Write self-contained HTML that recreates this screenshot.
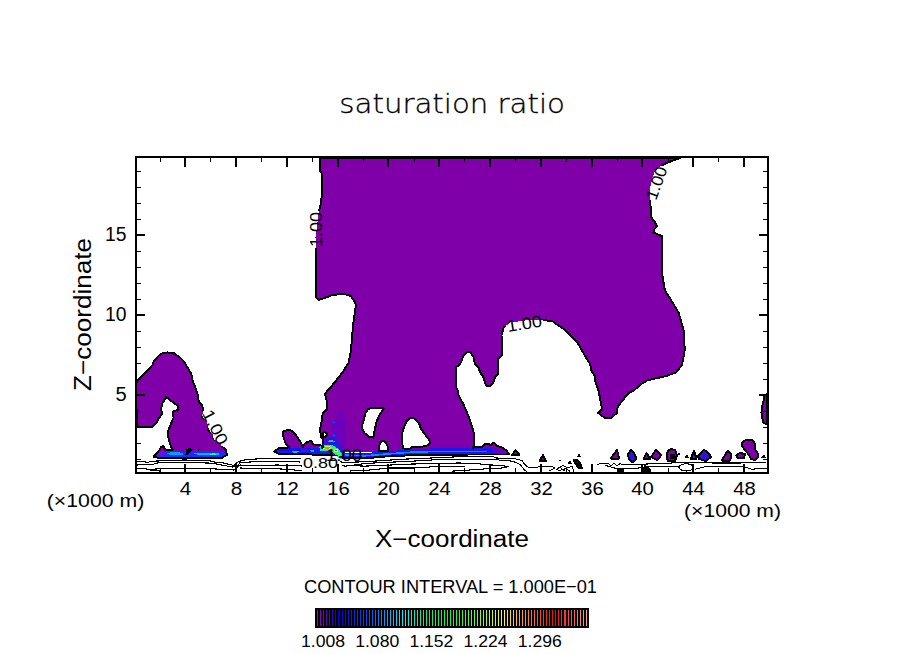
<!DOCTYPE html>
<html><head><meta charset="utf-8"><title>saturation ratio</title>
<style>html,body{margin:0;padding:0;background:#fff;}svg{display:block;}</style></head>
<body>
<svg width="904" height="654" viewBox="0 0 904 654" shape-rendering="crispEdges">
<defs><mask id="lm" maskUnits="userSpaceOnUse" x="0" y="0" width="904" height="654"><rect width="904" height="654" fill="#fff"/><rect transform="translate(321.8,247) rotate(-90)" x="-1" y="-12.4" width="37" height="13.2" fill="#000"/><rect transform="translate(656,201) rotate(-70)" x="-1" y="-12.4" width="36" height="13.2" fill="#000"/><rect transform="translate(508,332) rotate(-9)" x="-1" y="-12.4" width="37" height="13.2" fill="#000"/><rect transform="translate(201.8,413.2) rotate(63)" x="-1" y="-12.4" width="39" height="13.2" fill="#000"/><rect transform="translate(303,467.6) rotate(0)" x="-1" y="-11.6" width="37" height="12.4" fill="#000"/></mask></defs>
<rect width="904" height="654" fill="#fff"/>
<polygon points="320,158 680,158 673,160.5 665,163.75 658.75,167 655,171.25 652.5,177.5 650,187.5 650,200 650.6,207.5 651.25,217.5 655,222.5 657,226.25 653.75,230 653.5,232.5 662.25,236.25 662.25,250 662.25,275 664.75,290 671,300 678.5,312.5 683.5,330 684.75,350 682,365 676,372.5 666,376 650,379.7 646.9,380.6 641.4,383.9 634,390.3 628.5,393 624.9,397.6 621.2,402.2 618.4,405.9 616.6,410 617.5,413.2 613.4,415.5 611.1,417.8 605.1,417.8 601,415 597.8,412.8 601.5,410 601.5,405.9 600.1,398.5 598.3,389.4 595.5,382 594.6,375.6 591.8,371.9 590,363.7 587.5,360 577.5,342.5 565,330 552.5,321.25 543.75,320 525,320.5 510,322.5 503.75,327.5 501.5,335 502,355.2 498.5,358.5 498.1,362 498.1,373.7 495.1,377 493.9,381.2 490.9,385.5 486.7,385.9 485,382.9 483.4,377 480,372 478.3,367 474.9,363.6 473.3,356 469.9,352.2 466.5,352.6 463.2,356 461.5,361 459.8,364.4 456.4,366.9 455.6,370.3 456,387.1 457.7,390.5 458.5,395 463.75,405 470,420 473.75,432.5 473.75,445 473,449 420,449 380,452 345,452 330,449 323,444.2 323.5,440 321,437 320,429.1 321.2,424.8 322,416.7 323.3,412.4 327,408.7 326.7,400.6 325,393.75 332.5,385 342.5,372.5 348.75,362.5 351,350 352.5,332.5 353.75,320 356,305 355,302.5 351,296 343.75,293.75 332.5,295 318.75,300 316,297.5 316,275 316,262.5 316,250 315.5,237.5 318.75,212.5 320.5,205 322,195 322,187.5 322,173.75 320,171 320,160" fill="#7f00a8"/>
<polygon points="368.2,408.9 375.7,407.5 383.7,408.5 383.2,409.8 379.4,415 376.6,421.6 374.7,430.1 373.3,437.6 369.1,437.1 364.4,432.9 361.6,427.3 363.5,420.7 365.3,413.2" fill="#fff"/>
<polygon points="410.5,417.9 415.2,418.8 418.9,422.6 420.8,428.2 424.5,433.8 429.2,439.5 430.2,443.2 428.3,445.1 420.8,447 411.4,447.5 409.5,448.9 405.8,449.3 402.9,447.9 402,440.4 402,433.8 403.9,427.3 406.2,421.6" fill="#fff"/>
<polygon points="383,440.5 386,443 388,447 388.5,451 378.5,451 379.5,445 381,441.5" fill="#fff"/>
<polygon points="323.3,432.5 325,431.5 327.5,434.5 325.5,437.2 323.3,437" fill="#fff"/>
<polygon points="136,383 140,378 146.25,371.9 152.5,365 153,362.5 158.75,355.6 162.5,353.1 167.5,352.5 173.75,353.1 180,357.5 183.75,361.25 191.25,373.75 192.5,380 197.5,393.75 198.75,401.25 201.9,405 203.4,410 201.5,417.6 206,420 208,425 208.3,430.6 213,434.4 213.7,439 220.6,444.3 222,446.6 226,450 227,455 222,457.7 158,457.7 153.7,456.7 159.3,450.2 161,447 163.5,446.2 165,449.5 172.7,449.5 170.9,446.2 168.6,439.7 168.1,431.5 170,426 173.6,417.7 172.7,411.7 177.8,409.9 177.8,405.8 172.7,402.1 166.3,397 162.6,403 160.8,409.4 162.6,413.1 158.5,418.6 157.1,422.3 151.6,427.4 136.9,427" fill="#7f00a8"/>
<polygon points="282.5,434 283.5,431.5 286.5,430.2 291,430.5 294.5,433.5 298,438 300.5,442 302.8,447 304.7,443.8 307.2,442 311.5,440.7 312.8,444.4 319.6,445 323,446 322,449 300,449 290,448 286,444.5" fill="#7f00a8"/>
<polygon points="767,394 764.5,396 763.8,400.2 762.4,405.7 761.4,412.6 762.1,417.4 763.4,422.2 766,424.3 767,424.5" fill="#7f00a8"/>
<polygon points="744,441 748,439.5 753,440.5 755,444 755,449 757.5,453 758,457 755,460 751,459 749,455 745,450 742,446 741.5,443" fill="#7f00a8"/>
<polygon points="474,447.3 482,447.3 484,444.5 489,443.9 491,445.5 493,443.2 495,443.5 497,446 502,447.5 506,450 509,453.8 506,454.5 474,454.5" fill="#7f00a8"/>
<polygon points="515.5,450 519.5,455 512,455" fill="#7f00a8"/>
<polygon points="543,455 545.75,461 539.5,461" fill="#7f00a8"/>
<polygon points="617,450 619,458.5 610.5,458.5" fill="#7f00a8"/>
<polygon points="646.6,453 650,458.75 643.6,458.75" fill="#7f00a8"/>
<polygon points="656,450 661.5,455 657,460 651,457" fill="#7f00a8"/>
<polygon points="671,449 675,450 677,455 675,461 668,461 666.5,456 668,451" fill="#7f00a8"/>
<polygon points="694,450.6 696.5,458.75 691,458.75" fill="#7f00a8"/>
<polygon points="728,450.5 731.5,455 730,460.5 722,460.5 725,455" fill="#7f00a8"/>
<polygon points="736,455.5 740,453 745,454 744,458 738,458" fill="#7f00a8"/>
<polygon points="631,450 634,453 636.5,459 632,462.5 629,459 628,454" fill="#3010e0"/>
<polygon points="704,449.5 709,454 711,457 706,461 699,459 698,456" fill="#3010e0"/>
<polygon points="274.3,451.3 279,448 300,448 320,447.6 330,449 345,452.5 365,453 385,451.5 410,449.5 430,448.5 470,447.8 493,448 498,450 506,452.5 508,454 496,454.5 470,454.5 430,454.8 416,455 385,456.5 363,458.5 345,458 330,455 300,454.5 279,454.5" fill="#1818f0"/>
<polygon points="345,454.3 365,455 385,453.3 410,451.5 440,450.6 480,450.6 490,451.2 480,452.2 440,452.2 410,453 385,455 365,456.6 345,456" fill="#0090ff"/>
<polygon points="492,448 500,449 507,452.3 508.5,454 500,453.8 494,452.8" fill="#6008c8"/>
<polygon points="292,451 296,449.8 299.5,451 297,452.6 293,452.6" fill="#00c8ff"/>
<polygon points="309.7,451 312,449.4 314.6,451 312,452" fill="#20a8ff"/>
<polygon points="301,449 308.4,449 308.4,451.9 301,451.9" fill="#5010d0"/>
<polygon points="279,450 300,449.4 300,450.5 279,451" fill="#1010e8"/>
<polygon points="153.7,456.7 159,451.5 165,451 222,451 224.3,452.5 226,456 222,457.7 158,457.7" fill="#1030ff"/>
<polygon points="156,455 160,452 166,452 163,456" fill="#7010d0"/>
<polygon points="166,453 172,452.3 183,452.6 183,454.8 170,455.2" fill="#00a0ff"/>
<polygon points="193,453.3 205,452.6 216,452.8 221,454 216,455.4 200,455.3" fill="#00b8ff"/>
<polygon points="209.5,453.6 215,453.4 216,455 210,455.2" fill="#20ff80"/>
<polygon points="185.3,454.9 186.5,449 190,447.4 192.7,449.5 190,452 188,455" fill="#000"/>
<polygon points="197.4,451 198.5,449.3 200,449.6 199,451" fill="#000"/>
<polygon points="341,411.5 344.5,418 345,449 331,446 331.5,424 337,418" fill="#6c00bc"/>
<polygon points="333.8,420.4 336,422.6 333.8,424.8 331.6,422.6" fill="#1838f8"/>
<polygon points="333.8,433.4 336,435.6 333.8,437.8 331.6,435.6" fill="#1838f8"/>
<polygon points="325.5,438 331,437 336,438.5 339,442 342,448 343.5,454 342.5,459.3 336,456 331,451 320,451 319,446 322,444.5 325,442" fill="#2818d8"/>
<ellipse cx="331.3" cy="441.4" rx="3.7" ry="1" fill="#30a8ff"/>
<polygon points="319.5,447.5 321.5,445 331.3,444.8 335.5,446.8 339.5,450 342.5,455 342.2,459.2 338,457.5 333,452.5 330.5,451.2 320,451.2" fill="#00e8d0"/>
<polygon points="321,447.6 323,445.8 331,445.8 335,447.8 338.5,450.5 341,455.5 338.5,456 333.5,451.8 330.5,450.3 321.5,450.3" fill="#30ff50"/>
<ellipse cx="327.1" cy="447.8" rx="4.5" ry="1.5" fill="#d0ff20"/>
<ellipse cx="327.1" cy="447.8" rx="3.2" ry="0.9" fill="#ff8000"/>
<ellipse cx="336" cy="450.4" rx="2.2" ry="1.7" fill="#e0ff20"/>
<ellipse cx="336" cy="450.6" rx="1.2" ry="0.9" fill="#ff3000"/>
<circle cx="313" cy="451.5" r="1" fill="#00a0ff"/>
<g mask="url(#lm)">
<polyline points="323,444.2 323.5,440 321,437 320,429.1 321.2,424.8 322,416.7 323.3,412.4 327,408.7 326.7,400.6 325,393.75 332.5,385 342.5,372.5 348.75,362.5 351,350 352.5,332.5 353.75,320 356,305 355,302.5 351,296 343.75,293.75 332.5,295 318.75,300 316,297.5 316,275 316,262.5 316,250 315.5,237.5 318.75,212.5 320.5,205 322,195 322,187.5 322,173.75 320,171 320,160 320,158 680,158 673,160.5 665,163.75 658.75,167 655,171.25 652.5,177.5 650,187.5 650,200 650.6,207.5 651.25,217.5 655,222.5 657,226.25 653.75,230 653.5,232.5 662.25,236.25 662.25,250 662.25,275 664.75,290 671,300 678.5,312.5 683.5,330 684.75,350 682,365 676,372.5 666,376 650,379.7 646.9,380.6 641.4,383.9 634,390.3 628.5,393 624.9,397.6 621.2,402.2 618.4,405.9 616.6,410 617.5,413.2 613.4,415.5 611.1,417.8 605.1,417.8 601,415 597.8,412.8 601.5,410 601.5,405.9 600.1,398.5 598.3,389.4 595.5,382 594.6,375.6 591.8,371.9 590,363.7 587.5,360 577.5,342.5 565,330 552.5,321.25 543.75,320 525,320.5 510,322.5 503.75,327.5 501.5,335 502,355.2 498.5,358.5 498.1,362 498.1,373.7 495.1,377 493.9,381.2 490.9,385.5 486.7,385.9 485,382.9 483.4,377 480,372 478.3,367 474.9,363.6 473.3,356 469.9,352.2 466.5,352.6 463.2,356 461.5,361 459.8,364.4 456.4,366.9 455.6,370.3 456,387.1 457.7,390.5 458.5,395 463.75,405 470,420 473.75,432.5 473.75,445 473,449" stroke="#000" stroke-width="2" stroke-linejoin="round" fill="none"/>
<polyline points="288,448 279,448 274.3,451.3 279,454.2 300,454.2 330,455 345,458 363,458.5 385,456.5 416,455 430,454.8 470,454.5 506,454.5" stroke="#000" stroke-width="2" stroke-linejoin="round" fill="none"/>
<polyline points="136,383 140,378 146.25,371.9 152.5,365 153,362.5 158.75,355.6 162.5,353.1 167.5,352.5 173.75,353.1 180,357.5 183.75,361.25 191.25,373.75 192.5,380 197.5,393.75 198.75,401.25 201.9,405 203.4,410 201.5,417.6 206,420 208,425 208.3,430.6 213,434.4 213.7,439 220.6,444.3 222,446.6 226,450 227,455 222,457.7 158,457.7 153.7,456.7 159.3,450.2 161,447 163.5,446.2 165,449.5 172.7,449.5 170.9,446.2 168.6,439.7 168.1,431.5 170,426 173.6,417.7 172.7,411.7 177.8,409.9 177.8,405.8 172.7,402.1 166.3,397 162.6,403 160.8,409.4 162.6,413.1 158.5,418.6 157.1,422.3 151.6,427.4 136.9,427 136,383" stroke="#000" stroke-width="2" stroke-linejoin="round" fill="none"/>
<polyline points="290,448 286,444.5 282.5,434 283.5,431.5 286.5,430.2 291,430.5 294.5,433.5 298,438 300.5,442 302.8,447 304.7,443.8 307.2,442 311.5,440.7 312.8,444.4 319.6,445 323,446 322,449" stroke="#000" stroke-width="2" stroke-linejoin="round" fill="none"/>
<polyline points="474,447.3 482,447.3 484,444.5 489,443.9 491,445.5 493,443.2 495,443.5 497,446 502,447.5 506,450 509,453.8 506,454.5" stroke="#000" stroke-width="2" stroke-linejoin="round" fill="none"/>
<polygon points="368.2,408.9 375.7,407.5 383.7,408.5 383.2,409.8 379.4,415 376.6,421.6 374.7,430.1 373.3,437.6 369.1,437.1 364.4,432.9 361.6,427.3 363.5,420.7 365.3,413.2" stroke="#000" stroke-width="2" stroke-linejoin="round" fill="none"/>
<polygon points="410.5,417.9 415.2,418.8 418.9,422.6 420.8,428.2 424.5,433.8 429.2,439.5 430.2,443.2 428.3,445.1 420.8,447 411.4,447.5 409.5,448.9 405.8,449.3 402.9,447.9 402,440.4 402,433.8 403.9,427.3 406.2,421.6" stroke="#000" stroke-width="2" stroke-linejoin="round" fill="none"/>
<polygon points="383,440.5 386,443 388,447 388.5,451 378.5,451 379.5,445 381,441.5" stroke="#000" stroke-width="2" stroke-linejoin="round" fill="none"/>
<polygon points="323.3,432.5 325,431.5 327.5,434.5 325.5,437.2 323.3,437" stroke="#000" stroke-width="2" stroke-linejoin="round" fill="none"/>
<polygon points="767,394 764.5,396 763.8,400.2 762.4,405.7 761.4,412.6 762.1,417.4 763.4,422.2 766,424.3 767,424.5" stroke="#000" stroke-width="2" stroke-linejoin="round" fill="none"/>
<polygon points="744,441 748,439.5 753,440.5 755,444 755,449 757.5,453 758,457 755,460 751,459 749,455 745,450 742,446 741.5,443" stroke="#000" stroke-width="2" stroke-linejoin="round" fill="none"/>
<polygon points="515.5,450 519.5,455 512,455" stroke="#000" stroke-width="2" stroke-linejoin="round" fill="none"/>
<polygon points="543,455 545.75,461 539.5,461" stroke="#000" stroke-width="2" stroke-linejoin="round" fill="none"/>
<polygon points="617,450 619,458.5 610.5,458.5" stroke="#000" stroke-width="2" stroke-linejoin="round" fill="none"/>
<polygon points="646.6,453 650,458.75 643.6,458.75" stroke="#000" stroke-width="2" stroke-linejoin="round" fill="none"/>
<polygon points="656,450 661.5,455 657,460 651,457" stroke="#000" stroke-width="2" stroke-linejoin="round" fill="none"/>
<polygon points="671,449 675,450 677,455 675,461 668,461 666.5,456 668,451" stroke="#000" stroke-width="2" stroke-linejoin="round" fill="none"/>
<polygon points="694,450.6 696.5,458.75 691,458.75" stroke="#000" stroke-width="2" stroke-linejoin="round" fill="none"/>
<polygon points="728,450.5 731.5,455 730,460.5 722,460.5 725,455" stroke="#000" stroke-width="2" stroke-linejoin="round" fill="none"/>
<polygon points="736,455.5 740,453 745,454 744,458 738,458" stroke="#000" stroke-width="2" stroke-linejoin="round" fill="none"/>
<polygon points="631,450 634,453 636.5,459 632,462.5 629,459 628,454" stroke="#000" stroke-width="2" stroke-linejoin="round" fill="none"/>
<polygon points="704,449.5 709,454 711,457 706,461 699,459 698,456" stroke="#000" stroke-width="2" stroke-linejoin="round" fill="none"/>
</g>
<g mask="url(#lm)">
<polyline points="137,461.25 142,461.25 147.75,462.5 151.5,461.25 184,460 209,460.6 214,461.9 224,463.1 234,465.5 237,462.5 241.5,460.6 247.5,459.4 275,458.1 295,458.1 301,458.5" fill="none" stroke="#000" stroke-width="1.1" stroke-linejoin="round"/>
<polyline points="137,465 146.5,464.4 152.75,464.4 159,462.5 184,462.5 211.5,463.1 221.5,465 232.75,467 238,465.5 240,462.5 252.5,461.9 277.5,461.25 292.5,461.25 300,462" fill="none" stroke="#000" stroke-width="1.1" stroke-linejoin="round"/>
<polyline points="137,468.1 150.25,469.4 160,468.75 184,468.1 211.5,468.75 234,470 240,465 250,465.6 277.5,465 296,465.6 302,466" fill="none" stroke="#000" stroke-width="1.1" stroke-linejoin="round"/>
<polyline points="240,468 261,468.75 277.5,468.75 302.5,470.6" fill="none" stroke="#000" stroke-width="1.1" stroke-linejoin="round"/>
<polyline points="150,470.5 160,471" fill="none" stroke="#000" stroke-width="1.1" stroke-linejoin="round"/>
<polyline points="340,461 342.5,462.5 364.75,461.75 402,459.25 431,458 459,456.75 493.25,456.75 495.75,458 514.5,458.6 522,460.5 524.5,464.25 527,466.75 532,468 539.5,466.75 552,466.1 554.5,468 549.5,471" fill="none" stroke="#000" stroke-width="1.1" stroke-linejoin="round"/>
<polyline points="342,465 345,466.25 364.75,463.6 383.5,462.4 402,461.75 433.5,459.9 459,459.25 494.5,459.25 502,460.5 512,461.1 515.75,462.4 519.5,464.25 522,466.75 524.5,469.9 527,471.75" fill="none" stroke="#000" stroke-width="1.1" stroke-linejoin="round"/>
<polyline points="346,465.5 364.75,466.1 383.5,465.5 402,464.25 433.5,463.6 459,463 477,463.6 489.5,464.9 502,465.5 508.25,466.75 502,468 489.5,468.6 470.75,469.9 464.5,470.5 452,471.1" fill="none" stroke="#000" stroke-width="1.1" stroke-linejoin="round"/>
<polyline points="350,471 364.75,470.5 389.75,468 414.75,468 433.5,466.75 459,466.1 464.5,466.75" fill="none" stroke="#000" stroke-width="1.1" stroke-linejoin="round"/>
<polyline points="596.75,464.25 608,463 611,466 614,463 617,466 620,463.5 623,464.9 643,464.25 653,463.6 664,463.6 679,462.4 692.75,462.4 714,463 739,463 766.5,462.4" fill="none" stroke="#000" stroke-width="1.1" stroke-linejoin="round"/>
<polyline points="605.5,465.5 614.25,468 623,468.6 635.5,468.6 645.5,466.75 658,466.1 671.5,466.75 679,467" fill="none" stroke="#000" stroke-width="1.1" stroke-linejoin="round"/>
<polyline points="695,469.25 705,466.75 726.5,466.75 744,466.75 751.5,469.25 766.5,468" fill="none" stroke="#000" stroke-width="1.1" stroke-linejoin="round"/>
<polyline points="558,468 563,465.5 568,468 572,466 574,471.5" fill="none" stroke="#000" stroke-width="1.1" stroke-linejoin="round"/>
<polyline points="558,471 566,468.5 570,471.5" fill="none" stroke="#000" stroke-width="1.1" stroke-linejoin="round"/>
<polyline points="556,470 560,467.4 565,471" fill="none" stroke="#000" stroke-width="1.1" stroke-linejoin="round"/>
</g>
<ellipse cx="686.2" cy="467.4" rx="7" ry="3.6" fill="none" stroke="#000" stroke-width="1.1"/>
<polygon points="572.4,459 577,458.6 581,462 583,468.6 578,468.6 574,463" fill="#000"/>
<circle cx="577.5" cy="462.5" r="1" fill="#8000c0"/>
<polygon points="570,459.9 572.4,464.25 567.4,464.25" fill="#000"/>
<polygon points="579,453.6 581.75,457.4 576.75,457.4" fill="#000"/>
<polygon points="559.5,460 562,460 560.7,461.2" fill="#000"/>
<polygon points="558,460 561.75,460 560,461.1" fill="#000"/>
<polygon points="616.75,468 624.25,468 624.25,472 616.75,472" fill="#000"/>
<polygon points="644,464.5 647,466 650.5,469 650.5,472 643,472" fill="#000"/>
<polygon points="670,454 675,454 675,459 670,459" fill="#000"/>
<polygon points="687,454.5 689,457.5 684.6,457.5" fill="#000"/>
<polygon points="764,454 766,457.5 761.5,457.5" fill="#000"/>
<polygon points="679,452 680.5,454.5 677.5,454.5" fill="#000"/>
<rect x="136" y="157" width="632" height="316" fill="none" stroke="#000" stroke-width="2"/>
<path d="M160.5,158V162M160.5,472V468M210.5,158V162M210.5,472V468M261.5,158V162M261.5,472V468M312.5,158V162M312.5,472V468M363.5,158V162M363.5,472V468M414.5,158V162M414.5,472V468M464.5,158V162M464.5,472V468M515.5,158V162M515.5,472V468M566.5,158V162M566.5,472V468M617.5,158V162M617.5,472V468M668.5,158V162M668.5,472V468M718.5,158V162M718.5,472V468M137,171.5H141M767,171.5H763M137,187.5H141M767,187.5H763M137,203.5H141M767,203.5H763M137,219.5H141M767,219.5H763M137,251.5H141M767,251.5H763M137,267.5H141M767,267.5H763M137,283.5H141M767,283.5H763M137,299.5H141M767,299.5H763M137,331.5H141M767,331.5H763M137,347.5H141M767,347.5H763M137,363.5H141M767,363.5H763M137,379.5H141M767,379.5H763M137,411.5H141M767,411.5H763M137,427.5H141M767,427.5H763M137,443.5H141M767,443.5H763M137,459.5H141M767,459.5H763" stroke="#000" stroke-width="1" fill="none"/>
<path d="M185,158V166.5M185,472V463.5M236,158V166.5M236,472V463.5M287,158V166.5M287,472V463.5M338,158V166.5M338,472V463.5M388,158V166.5M388,472V463.5M439,158V166.5M439,472V463.5M490,158V166.5M490,472V463.5M541,158V166.5M541,472V463.5M592,158V166.5M592,472V463.5M642,158V166.5M642,472V463.5M693,158V166.5M693,472V463.5M744,158V166.5M744,472V463.5M137,235H145M767,235H759M137,315H145M767,315H759M137,395H145M767,395H759" stroke="#000" stroke-width="2" fill="none"/>
<rect x="315" y="608" width="274" height="20" fill="#000"/>
<rect x="317" y="610" width="1" height="16" fill="rgb(159, 0, 200)"/>
<rect x="320" y="610" width="1" height="16" fill="rgb(139, 0, 197)"/>
<rect x="323" y="610" width="1" height="16" fill="rgb(119, 0, 195)"/>
<rect x="326" y="610" width="1" height="16" fill="rgb(99, 0, 192)"/>
<rect x="329" y="610" width="1" height="16" fill="rgb(76, 0, 196)"/>
<rect x="332" y="610" width="1" height="16" fill="rgb(52, 0, 200)"/>
<rect x="335" y="610" width="1" height="16" fill="rgb(27, 0, 205)"/>
<rect x="338" y="610" width="2" height="16" fill="rgb(3, 0, 209)"/>
<rect x="342" y="610" width="1" height="16" fill="rgb(0, 10, 215)"/>
<rect x="345" y="610" width="1" height="16" fill="rgb(0, 18, 220)"/>
<rect x="348" y="610" width="1" height="16" fill="rgb(0, 26, 224)"/>
<rect x="351" y="610" width="1" height="16" fill="rgb(0, 33, 229)"/>
<rect x="354" y="610" width="1" height="16" fill="rgb(0, 41, 233)"/>
<rect x="357" y="610" width="1" height="16" fill="rgb(0, 49, 238)"/>
<rect x="360" y="610" width="1" height="16" fill="rgb(0, 57, 242)"/>
<rect x="363" y="610" width="1" height="16" fill="rgb(0, 65, 247)"/>
<rect x="366" y="610" width="1" height="16" fill="rgb(0, 73, 251)"/>
<rect x="369" y="610" width="1" height="16" fill="rgb(0, 82, 255)"/>
<rect x="372" y="610" width="1" height="16" fill="rgb(0, 96, 255)"/>
<rect x="375" y="610" width="1" height="16" fill="rgb(0, 111, 255)"/>
<rect x="378" y="610" width="1" height="16" fill="rgb(0, 125, 255)"/>
<rect x="381" y="610" width="1" height="16" fill="rgb(0, 139, 255)"/>
<rect x="384" y="610" width="1" height="16" fill="rgb(0, 153, 255)"/>
<rect x="387" y="610" width="1" height="16" fill="rgb(0, 167, 255)"/>
<rect x="390" y="610" width="1" height="16" fill="rgb(0, 181, 255)"/>
<rect x="393" y="610" width="1" height="16" fill="rgb(0, 195, 255)"/>
<rect x="396" y="610" width="1" height="16" fill="rgb(0, 209, 255)"/>
<rect x="399" y="610" width="1" height="16" fill="rgb(0, 224, 255)"/>
<rect x="402" y="610" width="1" height="16" fill="rgb(0, 238, 255)"/>
<rect x="405" y="610" width="1" height="16" fill="rgb(0, 240, 241)"/>
<rect x="408" y="610" width="1" height="16" fill="rgb(0, 240, 225)"/>
<rect x="411" y="610" width="1" height="16" fill="rgb(0, 240, 208)"/>
<rect x="414" y="610" width="1" height="16" fill="rgb(0, 240, 192)"/>
<rect x="417" y="610" width="1" height="16" fill="rgb(0, 240, 176)"/>
<rect x="420" y="610" width="1" height="16" fill="rgb(0, 240, 159)"/>
<rect x="423" y="610" width="1" height="16" fill="rgb(0, 240, 143)"/>
<rect x="426" y="610" width="1" height="16" fill="rgb(0, 241, 131)"/>
<rect x="429" y="610" width="1" height="16" fill="rgb(0, 243, 121)"/>
<rect x="432" y="610" width="1" height="16" fill="rgb(0, 245, 110)"/>
<rect x="435" y="610" width="1" height="16" fill="rgb(0, 247, 99)"/>
<rect x="438" y="610" width="1" height="16" fill="rgb(0, 248, 89)"/>
<rect x="441" y="610" width="1" height="16" fill="rgb(0, 250, 78)"/>
<rect x="444" y="610" width="1" height="16" fill="rgb(0, 252, 67)"/>
<rect x="447" y="610" width="1" height="16" fill="rgb(0, 254, 57)"/>
<rect x="450" y="610" width="1" height="16" fill="rgb(2, 255, 47)"/>
<rect x="453" y="610" width="1" height="16" fill="rgb(16, 255, 42)"/>
<rect x="456" y="610" width="1" height="16" fill="rgb(30, 255, 37)"/>
<rect x="459" y="610" width="1" height="16" fill="rgb(43, 255, 32)"/>
<rect x="462" y="610" width="1" height="16" fill="rgb(57, 255, 27)"/>
<rect x="465" y="610" width="1" height="16" fill="rgb(71, 255, 21)"/>
<rect x="468" y="610" width="1" height="16" fill="rgb(85, 255, 16)"/>
<rect x="471" y="610" width="1" height="16" fill="rgb(98, 255, 11)"/>
<rect x="474" y="610" width="1" height="16" fill="rgb(112, 255, 6)"/>
<rect x="477" y="610" width="1" height="16" fill="rgb(126, 255, 1)"/>
<rect x="480" y="610" width="1" height="16" fill="rgb(140, 255, 0)"/>
<rect x="483" y="610" width="1" height="16" fill="rgb(155, 255, 0)"/>
<rect x="486" y="610" width="1" height="16" fill="rgb(170, 255, 0)"/>
<rect x="489" y="610" width="1" height="16" fill="rgb(184, 255, 0)"/>
<rect x="492" y="610" width="1" height="16" fill="rgb(199, 255, 0)"/>
<rect x="495" y="610" width="1" height="16" fill="rgb(213, 255, 0)"/>
<rect x="498" y="610" width="1" height="16" fill="rgb(228, 255, 0)"/>
<rect x="501" y="610" width="1" height="16" fill="rgb(243, 255, 0)"/>
<rect x="504" y="610" width="1" height="16" fill="rgb(255, 253, 0)"/>
<rect x="507" y="610" width="1" height="16" fill="rgb(255, 238, 0)"/>
<rect x="510" y="610" width="1" height="16" fill="rgb(255, 223, 0)"/>
<rect x="513" y="610" width="1" height="16" fill="rgb(255, 208, 0)"/>
<rect x="516" y="610" width="1" height="16" fill="rgb(255, 193, 0)"/>
<rect x="519" y="610" width="1" height="16" fill="rgb(255, 178, 0)"/>
<rect x="522" y="610" width="1" height="16" fill="rgb(255, 165, 0)"/>
<rect x="525" y="610" width="1" height="16" fill="rgb(255, 151, 0)"/>
<rect x="528" y="610" width="1" height="16" fill="rgb(255, 137, 0)"/>
<rect x="531" y="610" width="1" height="16" fill="rgb(255, 123, 0)"/>
<rect x="534" y="610" width="1" height="16" fill="rgb(255, 109, 0)"/>
<rect x="537" y="610" width="1" height="16" fill="rgb(255, 93, 0)"/>
<rect x="540" y="610" width="1" height="16" fill="rgb(255, 77, 0)"/>
<rect x="543" y="610" width="1" height="16" fill="rgb(255, 61, 0)"/>
<rect x="546" y="610" width="1" height="16" fill="rgb(255, 45, 0)"/>
<rect x="549" y="610" width="1" height="16" fill="rgb(255, 29, 0)"/>
<rect x="552" y="610" width="1" height="16" fill="rgb(255, 13, 0)"/>
<rect x="555" y="610" width="1" height="16" fill="rgb(255, 3, 3)"/>
<rect x="558" y="610" width="1" height="16" fill="rgb(255, 19, 19)"/>
<rect x="561" y="610" width="1" height="16" fill="rgb(255, 35, 35)"/>
<rect x="564" y="610" width="2" height="16" fill="rgb(255, 51, 51)"/>
<rect x="568" y="610" width="1" height="16" fill="rgb(255, 70, 70)"/>
<rect x="571" y="610" width="1" height="16" fill="rgb(255, 83, 83)"/>
<rect x="574" y="610" width="1" height="16" fill="rgb(255, 96, 96)"/>
<rect x="577" y="610" width="1" height="16" fill="rgb(255, 109, 109)"/>
<rect x="580" y="610" width="1" height="16" fill="rgb(255, 122, 122)"/>
<rect x="583" y="610" width="1" height="16" fill="rgb(255, 135, 135)"/>
<rect x="586" y="610" width="1" height="16" fill="rgb(255, 148, 148)"/>
<g font-family="'DejaVu Sans', 'Liberation Sans', sans-serif" font-weight="200">
<text x="339.3" y="113" font-size="27" text-anchor="start" textLength="225.7" lengthAdjust="spacingAndGlyphs" stroke="#000" stroke-width="0.3">saturation ratio</text>
</g>
<g font-family="'Liberation Sans', 'DejaVu Sans', sans-serif">
<text x="185.5" y="495" font-size="18.4" text-anchor="middle" textLength="11.5" lengthAdjust="spacingAndGlyphs">4</text>
<text x="236.5" y="495" font-size="18.4" text-anchor="middle" textLength="11.5" lengthAdjust="spacingAndGlyphs">8</text>
<text x="287.5" y="495" font-size="18.4" text-anchor="middle" textLength="22.5" lengthAdjust="spacingAndGlyphs">12</text>
<text x="338.5" y="495" font-size="18.4" text-anchor="middle" textLength="22.5" lengthAdjust="spacingAndGlyphs">16</text>
<text x="388.5" y="495" font-size="18.4" text-anchor="middle" textLength="22.5" lengthAdjust="spacingAndGlyphs">20</text>
<text x="439.5" y="495" font-size="18.4" text-anchor="middle" textLength="22.5" lengthAdjust="spacingAndGlyphs">24</text>
<text x="490.5" y="495" font-size="18.4" text-anchor="middle" textLength="22.5" lengthAdjust="spacingAndGlyphs">28</text>
<text x="541.5" y="495" font-size="18.4" text-anchor="middle" textLength="22.5" lengthAdjust="spacingAndGlyphs">32</text>
<text x="592.5" y="495" font-size="18.4" text-anchor="middle" textLength="22.5" lengthAdjust="spacingAndGlyphs">36</text>
<text x="642.5" y="495" font-size="18.4" text-anchor="middle" textLength="22.5" lengthAdjust="spacingAndGlyphs">40</text>
<text x="693.5" y="495" font-size="18.4" text-anchor="middle" textLength="22.5" lengthAdjust="spacingAndGlyphs">44</text>
<text x="744.5" y="495" font-size="18.4" text-anchor="middle" textLength="22.5" lengthAdjust="spacingAndGlyphs">48</text>
<text x="126.6" y="241.2" font-size="19.6" text-anchor="end" textLength="21.5" lengthAdjust="spacingAndGlyphs">15</text>
<text x="126.6" y="321.2" font-size="19.6" text-anchor="end" textLength="21.5" lengthAdjust="spacingAndGlyphs">10</text>
<text x="126.6" y="401.2" font-size="19.6" text-anchor="end" textLength="11.2" lengthAdjust="spacingAndGlyphs">5</text>
<text x="46.75" y="506.5" font-size="18" text-anchor="start" textLength="97.5" lengthAdjust="spacingAndGlyphs">(×1000 m)</text>
<text x="684" y="517" font-size="18" text-anchor="start" textLength="97" lengthAdjust="spacingAndGlyphs">(×1000 m)</text>
<text x="375" y="546.7" font-size="23" text-anchor="start" textLength="154" lengthAdjust="spacingAndGlyphs">X−coordinate</text>
<text transform="translate(91,391) rotate(-90)" font-size="23" textLength="153" lengthAdjust="spacingAndGlyphs">Z−coordinate</text>
<text x="304" y="592.8" font-size="18.5" text-anchor="start" textLength="293" lengthAdjust="spacingAndGlyphs">CONTOUR INTERVAL = 1.000E−01</text>
<text x="301" y="647" font-size="17" text-anchor="start" textLength="44" lengthAdjust="spacingAndGlyphs">1.008</text>
<text x="355.2" y="647" font-size="17" text-anchor="start" textLength="44" lengthAdjust="spacingAndGlyphs">1.080</text>
<text x="409.4" y="647" font-size="17" text-anchor="start" textLength="44" lengthAdjust="spacingAndGlyphs">1.152</text>
<text x="463.6" y="647" font-size="17" text-anchor="start" textLength="44" lengthAdjust="spacingAndGlyphs">1.224</text>
<text x="517.8" y="647" font-size="17" text-anchor="start" textLength="44" lengthAdjust="spacingAndGlyphs">1.296</text>
</g>
<g font-family="'Liberation Sans', 'DejaVu Sans', sans-serif">
<text transform="translate(321.8,247) rotate(-90)" font-size="16.5" textLength="35" lengthAdjust="spacingAndGlyphs">1.00</text>
<text transform="translate(656,201) rotate(-70)" font-size="16.5" textLength="34" lengthAdjust="spacingAndGlyphs">1.00</text>
<text transform="translate(508,332) rotate(-9)" font-size="16.5" textLength="35" lengthAdjust="spacingAndGlyphs">1.00</text>
<text transform="translate(201.8,413.2) rotate(63)" font-size="16.5" textLength="37" lengthAdjust="spacingAndGlyphs">1.00</text>
<text transform="translate(303,467.6) rotate(0)" font-size="15.5" textLength="35" lengthAdjust="spacingAndGlyphs">0.80</text>
<text transform="translate(326,461) rotate(0)" font-size="16" textLength="36" lengthAdjust="spacingAndGlyphs">1.00</text>
</g>
</svg>
</body></html>
